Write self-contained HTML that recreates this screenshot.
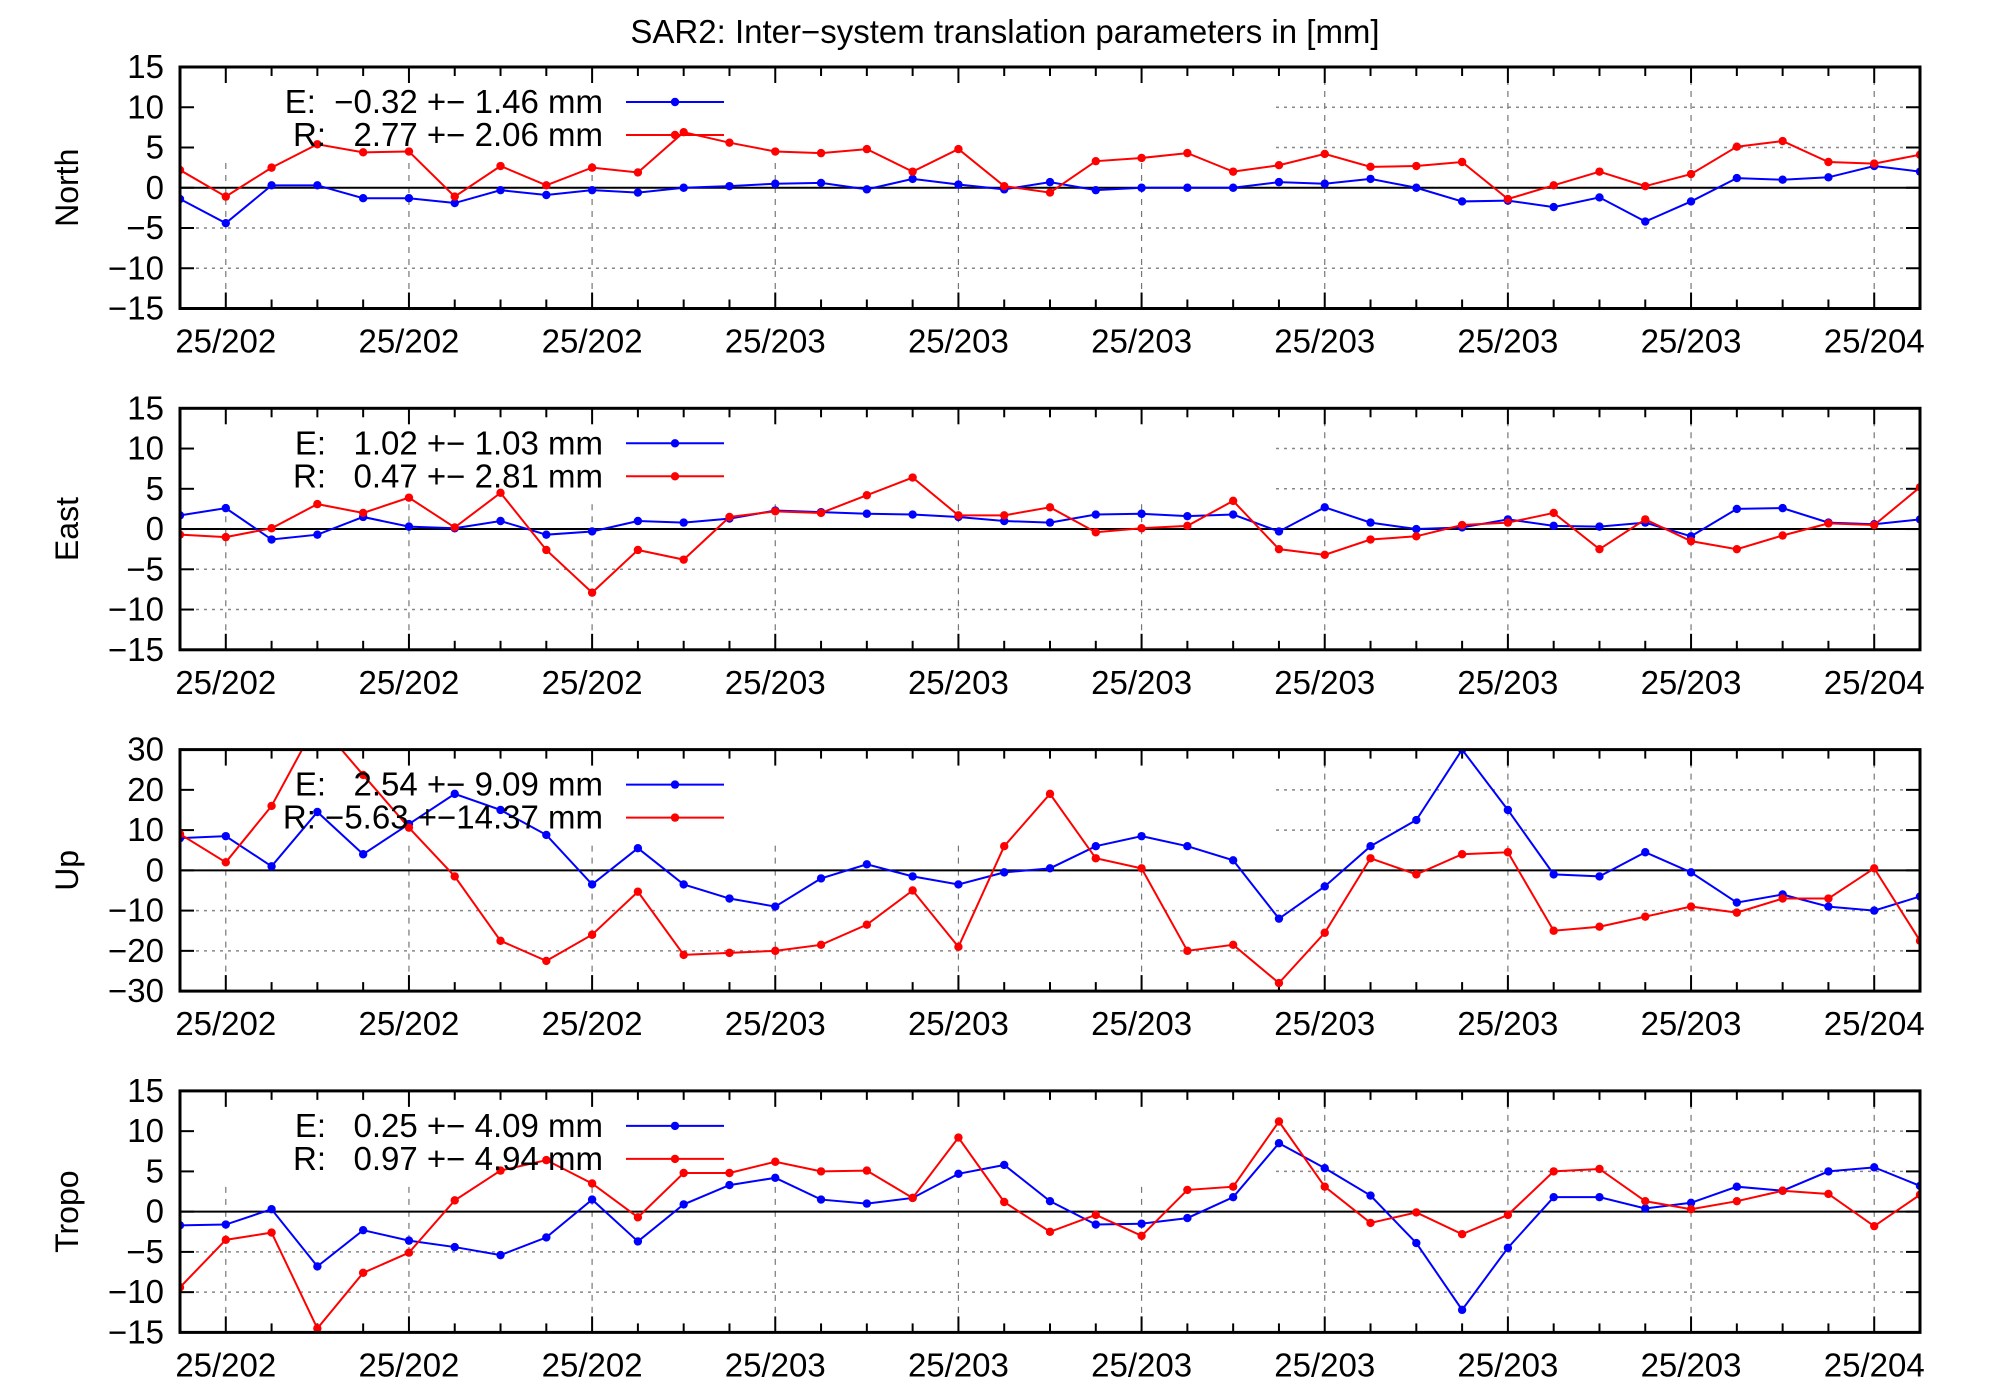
<!DOCTYPE html>
<html><head><meta charset="utf-8"><style>
html,body{margin:0;padding:0;background:#fff;}
svg{display:block;font-family:"Liberation Sans",sans-serif;}
text{white-space:pre;}
</style></head><body>
<svg id="chart" width="2000" height="1400" viewBox="0 0 2000 1400" xmlns="http://www.w3.org/2000/svg">
<text x="1005" y="43" font-size="33" text-anchor="middle">SAR2: Inter−system translation parameters in [mm]</text>
</svg>
<script>
const panelNames = ["North","East","Up","Tropo"];
const yRanges = [[-15,15],[-15,15],[-30,30],[-15,15]];
const yTickStep = [5,5,10,5];
const xTickLabels = ["25/202","25/202","25/202","25/203","25/203","25/203","25/203","25/203","25/203","25/204"];
const legendE = ["E:  −0.32 +− 1.46 mm","E:   1.02 +− 1.03 mm","E:   2.54 +− 9.09 mm","E:   0.25 +− 4.09 mm"];
const legendR = ["R:   2.77 +− 2.06 mm","R:   0.47 +− 2.81 mm","R: −5.63 +−14.37 mm","R:   0.97 +− 4.94 mm"];
const northE = [-1.4,-4.4,0.3,0.3,-1.3,-1.3,-1.9,-0.3,-0.9,-0.3,-0.6,0,0.2,0.5,0.6,-0.2,1.1,0.4,-0.2,0.7,-0.3,0,0,0,0.7,0.5,1.1,0,-1.7,-1.6,-2.4,-1.2,-4.2,-1.7,1.2,1.0,1.3,2.7,2.0];
const northR = [2.2,-1.1,2.5,5.4,4.4,4.5,-1.1,2.7,0.3,2.5,1.9,6.9,5.6,4.5,4.3,4.8,2.0,4.8,0.2,-0.6,3.3,3.7,4.3,2.0,2.8,4.2,2.6,2.7,3.2,-1.4,0.3,2.0,0.2,1.7,5.1,5.8,3.2,3.0,4.1];
const eastE = [1.7,2.6,-1.3,-0.7,1.5,0.3,0.1,1.0,-0.7,-0.3,1.0,0.8,1.3,2.3,2.1,1.9,1.8,1.5,1.0,0.8,1.8,1.9,1.6,1.8,-0.3,2.7,0.8,0.0,0.2,1.2,0.4,0.3,0.8,-0.9,2.5,2.6,0.8,0.6,1.2];
const eastR = [-0.7,-1.0,0.1,3.1,2.0,3.9,0.2,4.5,-2.6,-7.9,-2.6,-3.8,1.5,2.2,2.0,4.2,6.4,1.7,1.7,2.7,-0.4,0.1,0.4,3.5,-2.5,-3.2,-1.3,-0.9,0.5,0.8,2.0,-2.5,1.2,-1.5,-2.5,-0.8,0.7,0.5,5.2];
const upE = [8,8.5,1,14.5,4,11.5,19,15,8.8,-3.5,5.5,-3.5,-7,-9,-2,1.5,-1.5,-3.5,-0.5,0.5,6,8.5,6,2.5,-12,-4,6,12.5,30,15,-1,-1.5,4.5,-0.5,-8,-6,-9,-10,-6.5];
const upR = [9,2,16,37,23.7,10.6,-1.5,-17.5,-22.5,-16,-5.3,-21,-20.5,-20,-18.5,-13.5,-5,-19,6,19,3,0.5,-20,-18.5,-28,-15.5,3,-1,4,4.5,-15,-14,-11.5,-9,-10.5,-7,-7,0.5,-17.5];
const tropoE = [-1.7,-1.6,0.3,-6.8,-2.3,-3.6,-4.4,-5.4,-3.2,1.5,-3.7,0.9,3.3,4.2,1.5,1.0,1.7,4.7,5.8,1.3,-1.6,-1.5,-0.8,1.8,8.5,5.4,2.0,-3.9,-12.2,-4.5,1.8,1.8,0.4,1.1,3.1,2.6,5.0,5.5,3.2];
const tropoR = [-9.4,-3.5,-2.6,-14.5,-7.6,-5.1,1.4,5.1,6.4,3.5,-0.7,4.8,4.8,6.2,5.0,5.1,1.7,9.2,1.2,-2.5,-0.4,-3.0,2.7,3.1,11.2,3.1,-1.4,-0.1,-2.8,-0.4,5.0,5.3,1.3,0.3,1.3,2.6,2.2,-1.8,2.1];
const seriesE = [northE,eastE,upE,tropoE];
const seriesR = [northR,eastR,upR,tropoR];

const NS="http://www.w3.org/2000/svg";
const svg=document.getElementById("chart");
function mk(tag,attrs,parent){const e=document.createElementNS(NS,tag);for(const k in attrs)e.setAttribute(k,attrs[k]);(parent||svg).appendChild(e);return e;}
const L=180,R=1920,H=241.5;
const N=northE.length;
function xs(i){return L+(R-L)*i/(N-1);}
for(let p=0;p<4;p++){
  const top=67+341.3*p, bot=top+H;
  const [y0,y1]=yRanges[p];
  const ys=v=>bot-(v-y0)/(y1-y0)*H;
  const g=mk("g",{});
  
  
  for(let v=y0+yTickStep[p];v<y1;v+=yTickStep[p]){
    if(v===0)continue;
    const gl=mk("line",{x1:L,x2:R,y1:ys(v),y2:ys(v),stroke:"#888","stroke-width":1.5,"stroke-dasharray":"3,5"},g);
    
    
  }
  for(let j=0;j<xTickLabels.length;j++){
    const i=1+4*j, x=xs(i);
    const vl=mk("line",{x1:x,x2:x,y1:top,y2:bot,stroke:"#777","stroke-width":1.2,"stroke-dasharray":"6,6"},g);
    
    
    const t=mk("text",{x:x,y:bot+44,"font-size":33,"text-anchor":"middle"},g);
    t.textContent=xTickLabels[j];
    
    
  }
  const lb=mk("rect",{x:L+2,y:top+2,width:1274-L,height:92,fill:"#fff"},g);
  
  
  const z=mk("line",{x1:L,x2:R,y1:ys(0),y2:ys(0),stroke:"#000","stroke-width":2},g);
  
  
  for(let i=0;i<N;i++){
    const major=(i-1)%4===0, len=major?16:9, x=xs(i);
    mk("line",{x1:x,x2:x,y1:bot,y2:bot-len,stroke:"#000","stroke-width":2},g);
    mk("line",{x1:x,x2:x,y1:top,y2:top+len,stroke:"#000","stroke-width":2},g);
  }
  for(let v=y0;v<=y1;v+=yTickStep[p]){
    const y=ys(v);
    mk("line",{x1:L,x2:L+14,y1:y,y2:y,stroke:"#000","stroke-width":2},g);
    mk("line",{x1:R,x2:R-14,y1:y,y2:y,stroke:"#000","stroke-width":2},g);
    const t=mk("text",{x:164,y:y+11,"font-size":33,"text-anchor":"end"},g);
    t.textContent=(v<0?"−"+(-v):String(v));
    
    
  }
  const yt=mk("text",{x:0,y:0,"font-size":32,"text-anchor":"middle",transform:`translate(78,${top+H/2}) rotate(-90)`},g);
  yt.textContent=panelNames[p];
  
  
  const cid="clip"+p;
  const cp=mk("clipPath",{id:cid},g);
  mk("rect",{x:L,y:top,width:R-L,height:H},cp);
  const dg=mk("g",{"clip-path":`url(#${cid})`},g);
  [[seriesE[p],"#0000ff","series-e"],[seriesR[p],"#ff0000","series-r"]].forEach(([d,c,nm])=>{
    const pl=mk("polyline",{points:d.map((v,i)=>xs(i)+","+ys(v)).join(" "),fill:"none",stroke:c,"stroke-width":2},dg);
    
    
    d.forEach((v,i)=>{
      const m=mk("circle",{cx:xs(i),cy:ys(v),r:4.2,fill:c},dg);
      
      
    });
  });
  [[legendE[p],"#0000ff",35],[legendR[p],"#ff0000",68]].forEach(([txt,c,dy],k)=>{
    const t=mk("text",{x:603,y:top+dy+11,"font-size":33,"text-anchor":"end"},g);
    t.textContent=txt;
    
    
    mk("line",{x1:626,x2:724,y1:top+dy,y2:top+dy,stroke:c,"stroke-width":2},g);
    mk("circle",{cx:675,cy:top+dy,r:4.2,fill:c},g);
  });
  const fr=mk("rect",{x:L,y:top,width:R-L,height:H,fill:"none",stroke:"#000","stroke-width":3},g);
  
  
}
</script>
</body></html>
